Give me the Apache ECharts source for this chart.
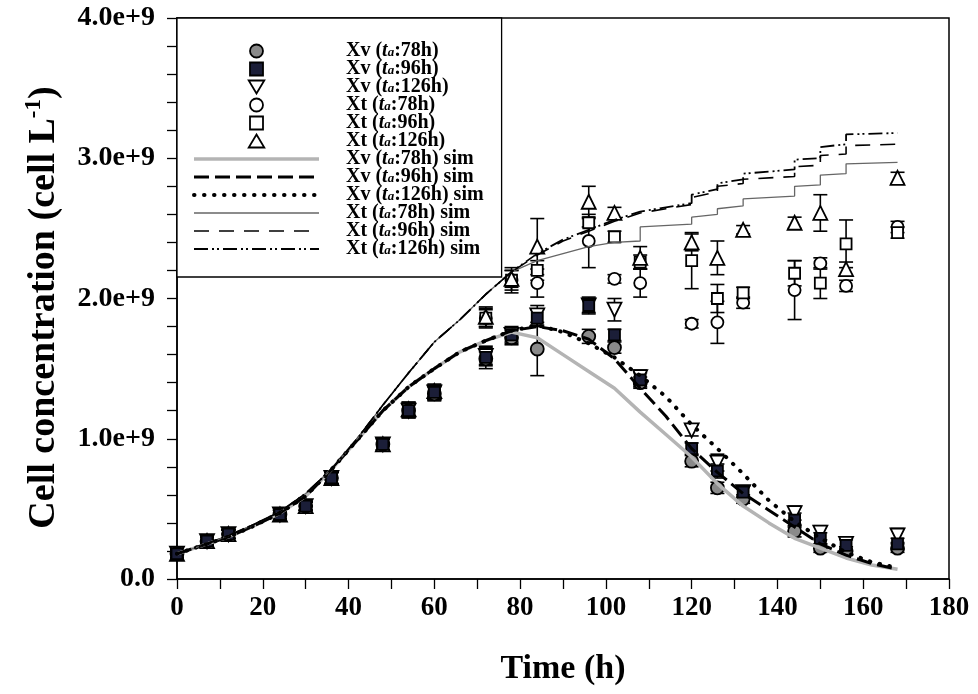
<!DOCTYPE html>
<html><head><meta charset="utf-8">
<script src="https://cdn.jsdelivr.net/npm/echarts@6/dist/echarts.min.js"></script>
<style>html,body{margin:0;padding:0;background:#fff}#c{width:978px;height:694px}</style>
</head><body><div id="c"></div>
<script>
// ---- data (cell concentration in units of 1e9 cell/L) ----
const times = [0,7,12,24,30,36,48,54,60,72,78,84,96,102,108,120,126,132,144,150,156,168];

const xv78  = [0.18,0.27,0.32,0.46,0.52,0.72,0.96,1.20,1.32,1.57,1.72,1.64,1.73,1.65,1.40,0.84,0.65,0.57,0.34,0.22,0.20,0.22];
const xv96  = [0.18,0.27,0.32,0.46,0.52,0.72,0.96,1.20,1.33,1.58,1.74,1.86,1.95,1.74,1.42,0.93,0.77,0.62,0.42,0.29,0.24,0.25];
const xv126 = [0.18,0.27,0.32,0.46,0.52,0.72,0.96,1.20,1.33,1.59,1.74,1.88,1.95,1.92,1.44,1.06,0.83,0.62,0.47,0.33,0.25,0.31];
const xt78  = [0.18,0.27,0.32,0.46,0.52,0.72,0.96,1.21,1.33,1.86,2.13,2.11,2.41,2.14,2.11,1.82,1.83,1.97,2.06,2.25,2.09,2.51];
const xt96  = [0.18,0.27,0.32,0.46,0.52,0.72,0.96,1.21,1.33,1.86,2.13,2.20,2.54,2.44,2.26,2.27,2.00,2.04,2.18,2.11,2.39,2.47];
const xt126 = [0.18,0.27,0.32,0.46,0.52,0.72,0.96,1.21,1.34,1.87,2.14,2.37,2.69,2.61,2.29,2.40,2.29,2.49,2.54,2.61,2.21,2.86];

const xv78Err  = [0.03,0.03,0.03,0.03,0.03,0.04,0.04,0.05,0.05,0.05,0.05,0.19,0.05,0.04,0.04,0.04,0.04,0.03,0.04,0.03,0.03,0.03];
const xv96Err  = [0.03,0.03,0.03,0.03,0.03,0.04,0.04,0.05,0.05,0.08,0.05,0.06,0.06,0.04,0.05,0.04,0.05,0.04,0.05,0.04,0.04,0.04];
const xv126Err = [0.03,0.03,0.03,0.03,0.03,0.04,0.04,0.05,0.05,0.06,0.06,0.07,0.05,0.08,0.05,0.04,0.06,0.04,0.05,0.05,0.04,0.05];
const xt78Err  = [0.03,0.03,0.03,0.03,0.03,0.04,0.04,0.05,0.05,0.06,0.09,0.10,0.19,0.03,0.10,0.03,0.15,0.04,0.21,0.04,0.04,0.04];
const xt96Err  = [0.03,0.03,0.03,0.03,0.03,0.04,0.04,0.05,0.05,0.07,0.07,0.07,0.03,0.04,0.05,0.20,0.10,0.04,0.09,0.11,0.17,0.04];
const xt126Err = [0.03,0.03,0.03,0.03,0.03,0.04,0.04,0.05,0.05,0.07,0.06,0.20,0.11,0.04,0.08,0.06,0.12,0.03,0.04,0.13,0.05,0.04];

// simulations
const xvSimT     = [0,6,12,18,24,30,36,42,48,54,60,66,72,78,84,90,96,102,108,114,120,126,132,138,144,150,156,162,168];
const xv78Sim    = [0.18,0.24,0.30,0.38,0.47,0.59,0.78,0.99,1.20,1.37,1.50,1.62,1.70,1.76,1.72,1.60,1.48,1.36,1.19,1.03,0.87,0.68,0.52,0.40,0.29,0.22,0.15,0.10,0.07];
const xv96Sim    = [0.18,0.24,0.30,0.38,0.47,0.59,0.78,0.99,1.20,1.37,1.50,1.62,1.70,1.77,1.80,1.77,1.71,1.57,1.36,1.16,0.93,0.76,0.61,0.49,0.37,0.25,0.17,0.11,0.07];
const xv126Sim   = [0.18,0.24,0.30,0.38,0.47,0.59,0.78,0.99,1.20,1.37,1.50,1.62,1.70,1.77,1.81,1.76,1.68,1.58,1.45,1.30,1.10,0.93,0.75,0.56,0.41,0.29,0.19,0.12,0.08];

const xt78SimT   = [0,6,12,18,24,30,36,42,48,54,60,66,72,78,84,90,96,102,108,108,120,120,126,126,132,132,144,144,150,150,156,156,168];
const xt78Sim    = [0.18,0.24,0.31,0.39,0.48,0.61,0.78,1.00,1.24,1.47,1.69,1.85,2.03,2.19,2.27,2.32,2.37,2.40,2.41,2.51,2.53,2.58,2.60,2.64,2.66,2.71,2.73,2.80,2.81,2.88,2.89,2.96,2.97];
const xtHiSimT   = [0,6,12,18,24,30,36,42,48,54,60,66,72,78,84,90,96,102,108,114,120,120,126,126,132,132,144,144,150,150,156,156,168];
const xt96Sim    = [0.18,0.24,0.31,0.39,0.48,0.61,0.78,1.00,1.24,1.47,1.69,1.85,2.03,2.19,2.31,2.41,2.48,2.55,2.61,2.64,2.67,2.72,2.76,2.80,2.82,2.85,2.87,2.94,2.95,3.02,3.03,3.09,3.10];
const xt126Sim   = [0.18,0.24,0.31,0.39,0.48,0.61,0.78,1.00,1.24,1.47,1.69,1.85,2.03,2.19,2.32,2.42,2.49,2.56,2.62,2.65,2.68,2.74,2.78,2.82,2.85,2.89,2.92,2.99,3.00,3.08,3.10,3.17,3.18];

const yTicks = [0,1,2,3,4];
const xTicks = [0,20,40,60,80,100,120,140,160,180];

const legendLabels = {
  xv78:  'Xv ({it|t}{sub|a}:78h)',
  xv96:  'Xv ({it|t}{sub|a}:96h)',
  xv126: 'Xv ({it|t}{sub|a}:126h)',
  xt78:  'Xt ({it|t}{sub|a}:78h)',
  xt96:  'Xt ({it|t}{sub|a}:96h)',
  xt126: 'Xt ({it|t}{sub|a}:126h)',
  xv78s: 'Xv ({it|t}{sub|a}:78h) sim',
  xv96s: 'Xv ({it|t}{sub|a}:96h) sim',
  xv126s:'Xv ({it|t}{sub|a}:126h) sim',
  xt78s: 'Xt ({it|t}{sub|a}:78h) sim',
  xt96s: 'Xt ({it|t}{sub|a}:96h) sim',
  xt126s:'Xt ({it|t}{sub|a}:126h) sim'
};

// ---- build ----
const SERIF = '"Liberation Serif", "Times New Roman", serif';
const pts = (ts, vs) => ts.map((t, i) => [t, vs[i]]);
const errRows = (vs, es) => times.map((t, i) => [t, vs[i] - es[i], vs[i] + es[i]]);

function errSeries(vs, es) {
  return {
    type: 'custom', silent: true, z: 1,
    data: errRows(vs, es),
    encode: { x: 0, y: [1, 2] },
    renderItem(params, api) {
      const x = api.value(0);
      const p1 = api.coord([x, api.value(1)]);
      const p2 = api.coord([x, api.value(2)]);
      const w = 7;
      const st = { stroke: '#000', lineWidth: 1.6 };
      return { type: 'group', children: [
        { type: 'line', shape: { x1: p1[0], y1: p1[1], x2: p2[0], y2: p2[1] }, style: st },
        { type: 'line', shape: { x1: p1[0] - w, y1: p1[1], x2: p1[0] + w, y2: p1[1] }, style: st },
        { type: 'line', shape: { x1: p2[0] - w, y1: p2[1], x2: p2[0] + w, y2: p2[1] }, style: st }
      ]};
    }
  };
}

function scatter(name, vs, symbol, size, fill, rot) {
  return {
    name, type: 'scatter', z: 3, data: pts(times, vs),
    symbol, symbolSize: size, symbolRotate: rot || 0,
    itemStyle: { color: fill, borderColor: '#000', borderWidth: 1.8, opacity: 1 },
    emphasis: { disabled: true }
  };
}

function simLine(name, ts, vs, color, width, type, cap) {
  return {
    name, type: 'line', z: 4, data: pts(ts, vs), symbol: 'none', smooth: false,
    lineStyle: { color, width, type, cap: cap || 'butt' },
    itemStyle: { color },
    emphasis: { disabled: true }
  };
}

const series = [
  errSeries(xt78, xt78Err), errSeries(xt96, xt96Err), errSeries(xt126, xt126Err),
  errSeries(xv78, xv78Err), errSeries(xv96, xv96Err), errSeries(xv126, xv126Err),
  scatter('xt78', xt78, 'circle', 12, '#fff'),
  scatter('xt96', xt96, 'rect', 11, '#fff'),
  scatter('xt126', xt126, 'triangle', 14, '#fff'),
  scatter('xv126', xv126, 'triangle', 14, '#fff', 180),
  scatter('xv78', xv78, 'circle', 13, '#8a8a8a'),
  scatter('xv96', xv96, 'rect', 11, '#1b1e38'),
  simLine('xv78s', xvSimT, xv78Sim, '#b4b4b4', 3.5, 'solid'),
  simLine('xv96s', xvSimT, xv96Sim, '#000', 3, [15, 6]),
  simLine('xv126s', xvSimT, xv126Sim, '#000', 4, [0.5, 9.5], 'round'),
  simLine('xt78s', xt78SimT, xt78Sim, '#666', 1.3, 'solid'),
  simLine('xt96s', xtHiSimT, xt96Sim, '#000', 1.6, [15, 10]),
  simLine('xt126s', xtHiSimT, xt126Sim, '#000', 1.8, [14, 4, 2, 3, 2, 4])
];

const hideDot = { color: 'rgba(0,0,0,0)', borderColor: 'rgba(0,0,0,0)', borderWidth: 0 };
const legendData = [
  { name: 'xv78' },
  { name: 'xv96', icon: 'path://M0,0L10,0L10,10L0,10Z' },
  { name: 'xv126', icon: 'path://M0,0L12,0L6,10Z' },
  { name: 'xt78' },
  { name: 'xt96', icon: 'path://M0,0L10,0L10,10L0,10Z' },
  { name: 'xt126', icon: 'path://M6,0L12,10L0,10Z' },
  { name: 'xv78s', itemStyle: hideDot },
  { name: 'xv96s', itemStyle: hideDot },
  { name: 'xv126s', itemStyle: hideDot },
  { name: 'xt78s', itemStyle: hideDot },
  { name: 'xt96s', itemStyle: hideDot },
  { name: 'xt126s', itemStyle: hideDot }
];

const chart = echarts.init(document.getElementById('c'), null, { renderer: 'canvas' });
chart.setOption({
  animation: false,
  backgroundColor: '#fff',
  grid: { left: 177, right: 29, top: 18, bottom: 115, show: true, borderColor: '#000', borderWidth: 1.5, backgroundColor: 'transparent' },
  xAxis: {
    type: 'value', min: xTicks[0], max: xTicks[xTicks.length - 1], interval: 20,
    name: 'Time (h)', nameLocation: 'middle', nameGap: 73,
    nameTextStyle: { fontFamily: SERIF, fontWeight: 'bold', fontSize: 34, color: '#000' },
    axisLine: { lineStyle: { color: '#000', width: 1.5 } },
    axisTick: { show: true, length: 10, lineStyle: { color: '#000', width: 1.3 } },
    minorTick: { show: true, splitNumber: 2, length: 10, lineStyle: { color: '#000', width: 1.3 } },
    splitLine: { show: false },
    axisLabel: { fontFamily: SERIF, fontWeight: 'bold', fontSize: 27, color: '#000', margin: 16 }
  },
  yAxis: {
    type: 'value', min: yTicks[0], max: yTicks[yTicks.length - 1], interval: 1,
    name: 'Cell concentration (cell L{sup|-1})', nameLocation: 'middle', nameGap: 112, nameRotate: 90,
    nameTextStyle: { fontFamily: SERIF, fontWeight: 'bold', fontSize: 38, color: '#000', lineHeight: 42,
      padding: [0, 18, 0, 0],
      rich: { sup: { fontFamily: SERIF, fontWeight: 'bold', fontSize: 23, verticalAlign: 'top', lineHeight: 23, color: '#000' } } },
    axisLine: { lineStyle: { color: '#000', width: 1.5 } },
    axisTick: { show: true, length: 10, lineStyle: { color: '#000', width: 1.3 } },
    minorTick: { show: true, splitNumber: 5, length: 10, lineStyle: { color: '#000', width: 1.3 } },
    splitLine: { show: false },
    axisLabel: { fontFamily: SERIF, fontWeight: 'bold', fontSize: 28, color: '#000', margin: 22,
      formatter: v => v === 0 ? '0.0' : v.toFixed(1) + 'e+9' }
  },
  legend: {
    orient: 'vertical', left: 177, top: 18,
    padding: [23, 18, 18, 15],
    backgroundColor: '#fff', borderColor: '#000', borderWidth: 1.3,
    itemWidth: 125, itemHeight: 13, itemGap: -2,
    selectedMode: false,
    symbolKeepAspect: true,
    data: legendData,
    formatter: n => '{sp| }' + legendLabels[n],
    itemStyle: { borderWidth: 'inherit' },
    lineStyle: { width: 'inherit' },
    textStyle: {
      fontFamily: SERIF, fontWeight: 'bold', fontSize: 20, color: '#000', lineHeight: 16,
      rich: {
        sp: { width: 22, lineHeight: 16, fontSize: 20 },
        it: { fontFamily: SERIF, fontWeight: 'bold', fontStyle: 'italic', fontSize: 20, lineHeight: 16, color: '#000' },
        sub: { fontFamily: SERIF, fontWeight: 'bold', fontStyle: 'italic', fontSize: 13, color: '#000', verticalAlign: 'bottom', lineHeight: 6 }
      }
    }
  },
  series
});
</script>
</body></html>
